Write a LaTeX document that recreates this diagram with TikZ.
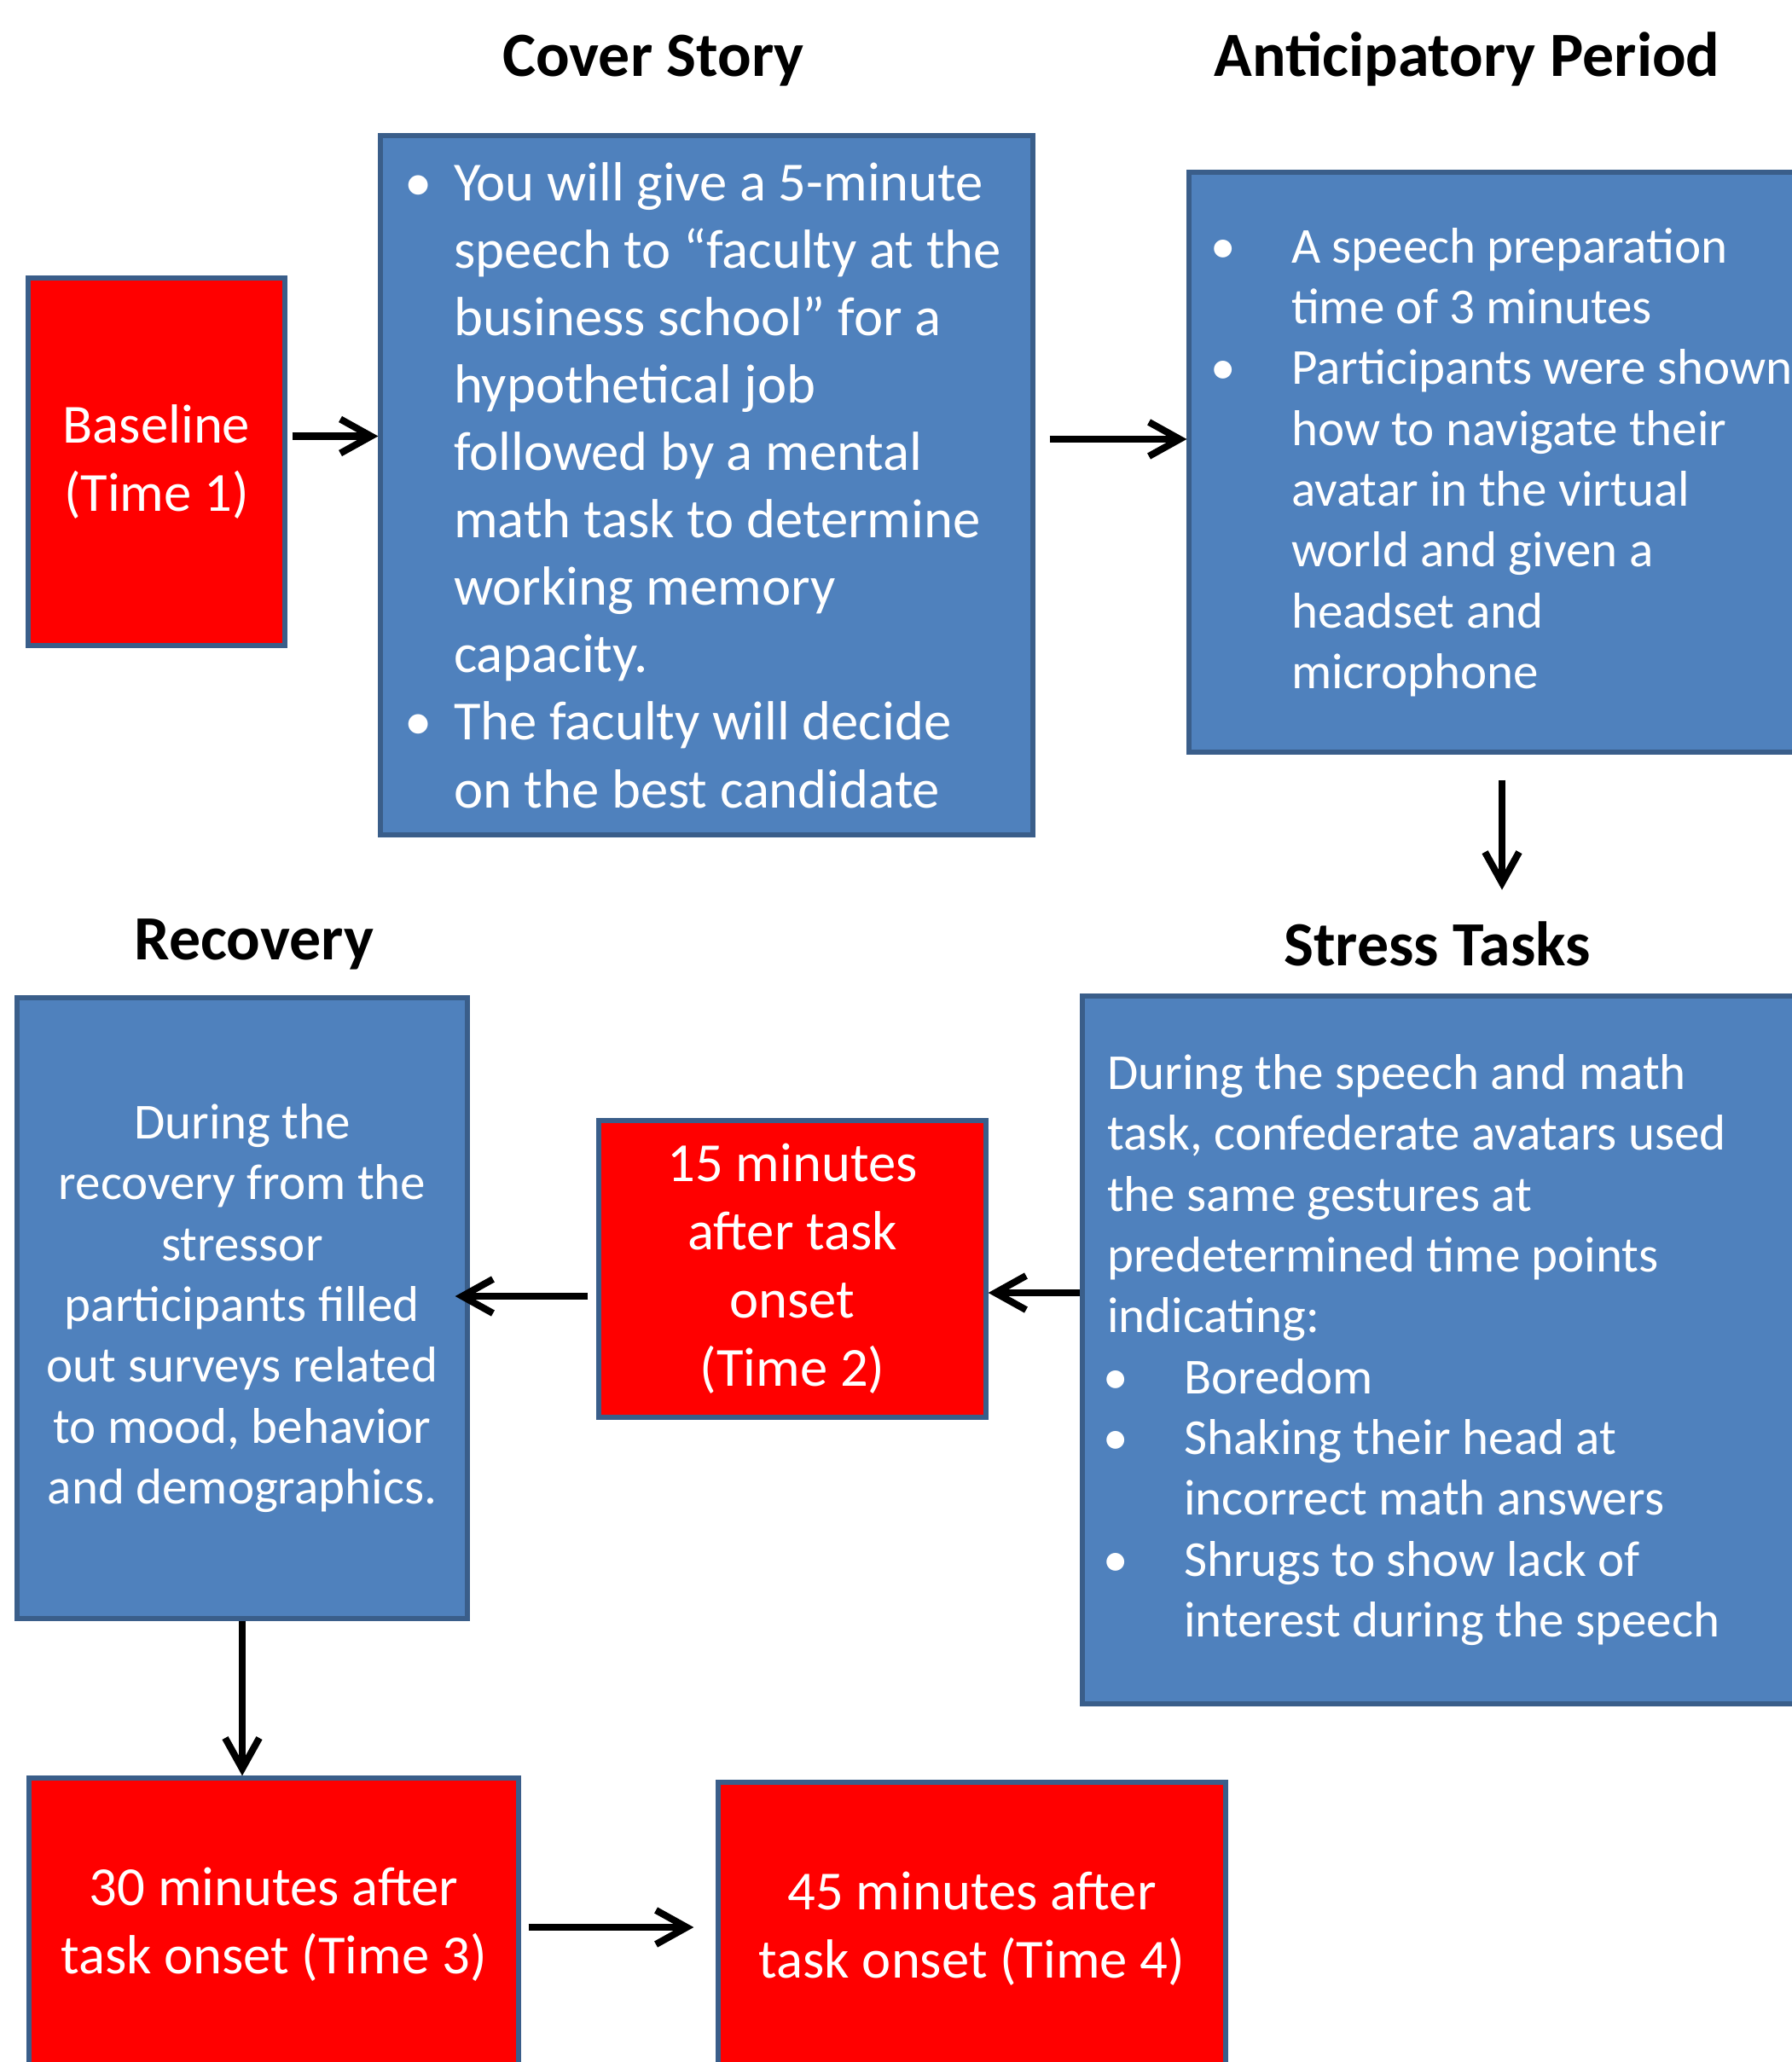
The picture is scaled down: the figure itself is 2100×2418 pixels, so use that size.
\documentclass[tikz,border=0pt]{standalone}
\usepackage{fontspec}
\setmainfont{Carlito}
\usetikzlibrary{arrows.meta}
\definecolor{boxblue}{RGB}{79,129,189}
\definecolor{edgeblue}{RGB}{58,94,138}
\definecolor{timered}{RGB}{255,0,0}
\newcommand{\bul}[1]{\makebox[#1][l]{\hspace*{-0.5mm}\textbullet}}
\newcommand{\hang}[1]{\hspace*{#1}}

\begin{document}
\begin{tikzpicture}
  [x=0.1mm,y=-0.1mm,every node/.style={inner sep=0pt},
   arr/.style={line width=2.3pt,-{Straight Barb[length=3.6mm,width=4mm]}}]
  \tikzstyle{panel} = [draw=edgeblue,line width=1.5pt,fill=boxblue,text=white]
  \tikzstyle{timebox} = [panel,fill=timered,align=center,font=\fontsize{18.4}{22.8}\selectfont]
  \tikzstyle{heading} = [anchor=base,font=\bfseries\fontsize{21}{25}\selectfont]
  \tikzstyle{body} = [text=white,anchor=west,align=left,font=\fontsize{16.8}{20.3}\selectfont]
  \useasboundingbox (0,0) rectangle (2100,2418);

  \node[heading] (coverT) at (766,90) {Cover Story};
  \node[heading] (anticT) at (1720,90) {Anticipatory Period};
  \node[heading] (recovT) at (298,1125) {Recovery};
  \node[heading] (stressT) at (1685,1132) {Stress Tasks};

  \node[timebox,minimum width=30.1mm,minimum height=43.1mm] (base) at (183.5,541.5) {Baseline\\(Time 1)};
  \node[panel,minimum width=76.5mm,minimum height=82mm] (cover) at (828.5,569) {};
  \node[body,font=\fontsize{18.4}{22.5}\selectfont] (coverTxt) at ([xshift=3.5mm]cover.west)
    {\bul{5.3mm}You will give a 5-minute\\
     \hang{5.3mm}speech to “faculty at the\\
     \hang{5.3mm}business school” for a\\
     \hang{5.3mm}hypothetical job\\
     \hang{5.3mm}followed by a mental\\
     \hang{5.3mm}math task to determine\\
     \hang{5.3mm}working memory\\
     \hang{5.3mm}capacity.\\
     \bul{5.3mm}The faculty will decide\\
     \hang{5.3mm}on the best candidate};
  \node[panel,minimum width=83.4mm,minimum height=68mm] (antic) at (1811,542) {};
  \node[body] (anticTxt) at ([xshift=3.2mm]antic.west)
    {\bul{9mm}A speech preparation\\
     \hang{9mm}time of 3 minutes\\
     \bul{9mm}Participants were shown\\
     \hang{9mm}how to navigate their\\
     \hang{9mm}avatar in the virtual\\
     \hang{9mm}world and given a\\
     \hang{9mm}headset and\\
     \hang{9mm}microphone};
  \node[panel,minimum width=93.1mm,minimum height=83mm] (stress) at (1734.5,1583) {};
  \node[body] (stressTxt) at ([xshift=3.1mm]stress.west)
    {During the speech and math\\
     task, confederate avatars used\\
     the same gestures at\\
     predetermined time points\\
     indicating:\\
     \bul{9mm}Boredom\\
     \bul{9mm}Shaking their head at\\
     \hang{9mm}incorrect math answers\\
     \bul{9mm}Shrugs to show lack of\\
     \hang{9mm}interest during the speech};
  \node[timebox,minimum width=45.4mm,minimum height=34.8mm] (h15) at (929,1488) {15 minutes\\after task\\onset\\(Time 2)};
  \node[panel,align=center,font=\fontsize{16.8}{20.3}\selectfont,minimum width=52.8mm,minimum height=72.8mm] (recov) at (284,1534)
    {During the\\recovery from the\\stressor\\participants filled\\out surveys related\\to mood, behavior\\and demographics.};
  \node[timebox,minimum width=57.4mm,minimum height=34.3mm] (h30) at (321,2256.5) {30 minutes after\\task onset (Time 3)};
  \node[timebox,minimum width=59.5mm,minimum height=34.4mm] (h45) at (1139.5,2262) {45 minutes after\\task onset (Time 4)};

  \foreach \source/\dest/\dy/\gap/\over in {base/cover/3mm/0.6mm/0mm,cover/antic/5.4mm/1.7mm/0mm,h30/h45/-0.35mm/0.9mm/2.6mm}
    \draw[arr,shorten <=\gap,shorten >=\over] ([yshift=\dy]\source.east) -- ([yshift=\dy]\source.east -| \dest.west);
  \foreach \source/\dest/\dy/\gap/\over in {stress/h15/6.7mm/0mm/0mm,h15/recov/-3.2mm/1mm/-1.7mm}
    \draw[arr,shorten <=\gap,shorten >=\over] ([yshift=\dy]\source.west) -- ([yshift=\dy]\source.west -| \dest.east);
  \draw[arr,shorten <=3mm,shorten >=3.6mm] ([xshift=-5mm]antic.south) -- ([xshift=-5mm]antic.south |- stressT.north);
  \draw[arr] (recov.south) -- (recov.south |- h30.north);
\end{tikzpicture}
\end{document}
